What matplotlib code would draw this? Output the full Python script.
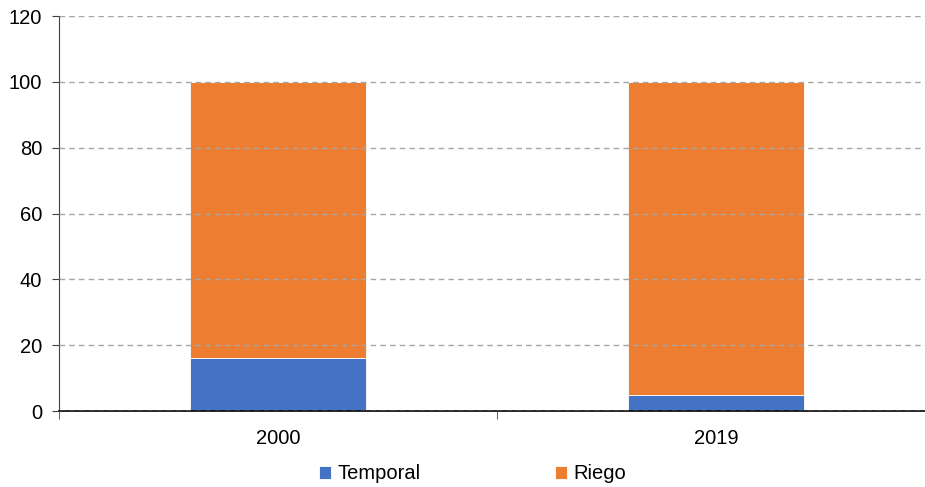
import matplotlib
matplotlib.use("Agg")
import matplotlib.pyplot as plt
import numpy as np

years = ["2000", "2019"]
temporal = [16, 5]
riego = [84, 95]

plt.rcParams["font.family"] = ["Liberation Sans", "DejaVu Sans"]

fig = plt.figure(figsize=(9.25, 4.87), dpi=100)
# right edge runs slightly past the canvas, as in the source
ax = fig.add_axes([0.0638, 0.156, 0.947, 0.811])

x = np.arange(len(years))
w = 0.4
ax.bar(x, temporal, w, color="#4472C4", edgecolor="white", linewidth=0.6, label="Temporal", zorder=2)
ax.bar(x, riego, w, bottom=temporal, color="#ED7D31", edgecolor="white", linewidth=0.6, label="Riego", zorder=2)

ax.set_xlim(-0.5, 1.5)
ax.set_ylim(0, 120)
ax.set_yticks(range(0, 121, 20))
ax.yaxis.grid(True, linestyle=(0, (4, 3)), color="#a6a6a6", linewidth=1, zorder=3)
ax.set_axisbelow(False)

ax.set_xticks(x)
ax.set_xticklabels(years)
ax.set_xticks([-0.5, 0.5, 1.5], minor=True)
ax.tick_params(axis="x", which="major", length=0, pad=13, labelsize=14.5)
ax.tick_params(axis="x", which="minor", length=6, direction="out", color="#404040")
ax.tick_params(axis="y", length=5, direction="out", labelsize=14.5, color="#404040", pad=7)

for s in ["top", "right"]:
    ax.spines[s].set_visible(False)
ax.spines["left"].set_color("#404040")
ax.spines["bottom"].set_color("black")
ax.spines["bottom"].set_linewidth(1.2)

fig.legend(loc="lower center", ncol=2, frameon=False, fontsize=14.5,
           bbox_to_anchor=(0.511, -0.03), handlelength=0.6, handleheight=0.6,
           handletextpad=0.3, columnspacing=6.7)

fig.savefig("out.png", dpi=100)
